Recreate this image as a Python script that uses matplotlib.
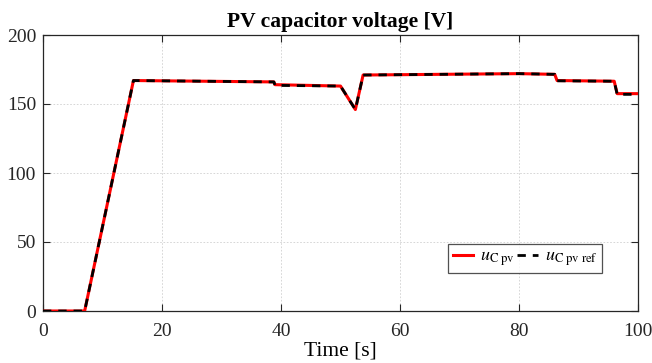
import matplotlib
matplotlib.use("Agg")
import matplotlib.pyplot as plt

plt.rcParams['font.family'] = ['Liberation Serif', 'DejaVu Serif']
plt.rcParams['mathtext.fontset'] = 'stix'

# PV capacitor voltage (measured) and its reference, piecewise profile
t_pv = [0, 7.0, 15.2, 38.8, 39.0, 50.0, 52.5, 53.8, 80.0, 86.0, 86.4, 96.0, 96.5, 100]
u_pv = [0, 0, 167.0, 166.0, 164.0, 163.0, 146.0, 171.0, 172.0, 171.5, 167.0, 166.5, 157.5, 157.5]

t_ref = [0, 7.0, 15.2, 38.8, 39.0, 50.0, 52.5, 53.8, 80.0, 86.0, 86.4, 96.0, 96.5, 100]
u_ref = [0, 0, 167.0, 166.0, 163.5, 163.0, 146.0, 171.0, 172.0, 171.5, 166.8, 166.5, 157.0, 157.0]

xticks = [0, 20, 40, 60, 80, 100]
yticks = [0, 50, 100, 150, 200]

fig = plt.figure(figsize=(6.52, 3.63), dpi=100)
ax = fig.add_axes([43/652, 1 - 311/363, 595/652, 276/363])

ax.plot(t_pv, u_pv, color='red', lw=2.2, label=r'$u_{\mathrm{C\ pv}}$', zorder=3)
ax.plot(t_ref, u_ref, color='black', lw=2.0, ls=(0, (3, 2.5)),
        label=r'$u_{\mathrm{C\ pv\ ref}}$', zorder=4)

ax.set_xlim(0, 100)
ax.set_ylim(0, 200)
ax.set_xticks(xticks)
ax.set_yticks(yticks)
ax.tick_params(direction='in', top=True, right=True, labelsize=14,
               length=5, width=0.8, colors='#262626', labelcolor='#262626')
ax.tick_params(axis='x', pad=9)
ax.tick_params(axis='y', pad=5)
for s in ax.spines.values():
    s.set_color('#262626')
    s.set_linewidth(0.9)
ax.grid(True, color='#d0d0d0', ls=(0, (2, 2)), lw=0.6)

ax.set_title('PV capacitor voltage [V]', fontsize=15.5, fontweight='bold', pad=6)
ax.set_xlabel('Time [s]', fontsize=15.5, labelpad=1)

leg = ax.legend(loc='lower left', bbox_to_anchor=(405/595, 38/276), ncol=2,
                fontsize=13, frameon=True, fancybox=False, handlelength=1.15,
                handletextpad=0.4, columnspacing=0.1, borderpad=0.25,
                borderaxespad=0)
leg.get_frame().set_edgecolor('#262626')
leg.get_frame().set_linewidth(0.9)

fig.savefig('out.png', dpi=100)
